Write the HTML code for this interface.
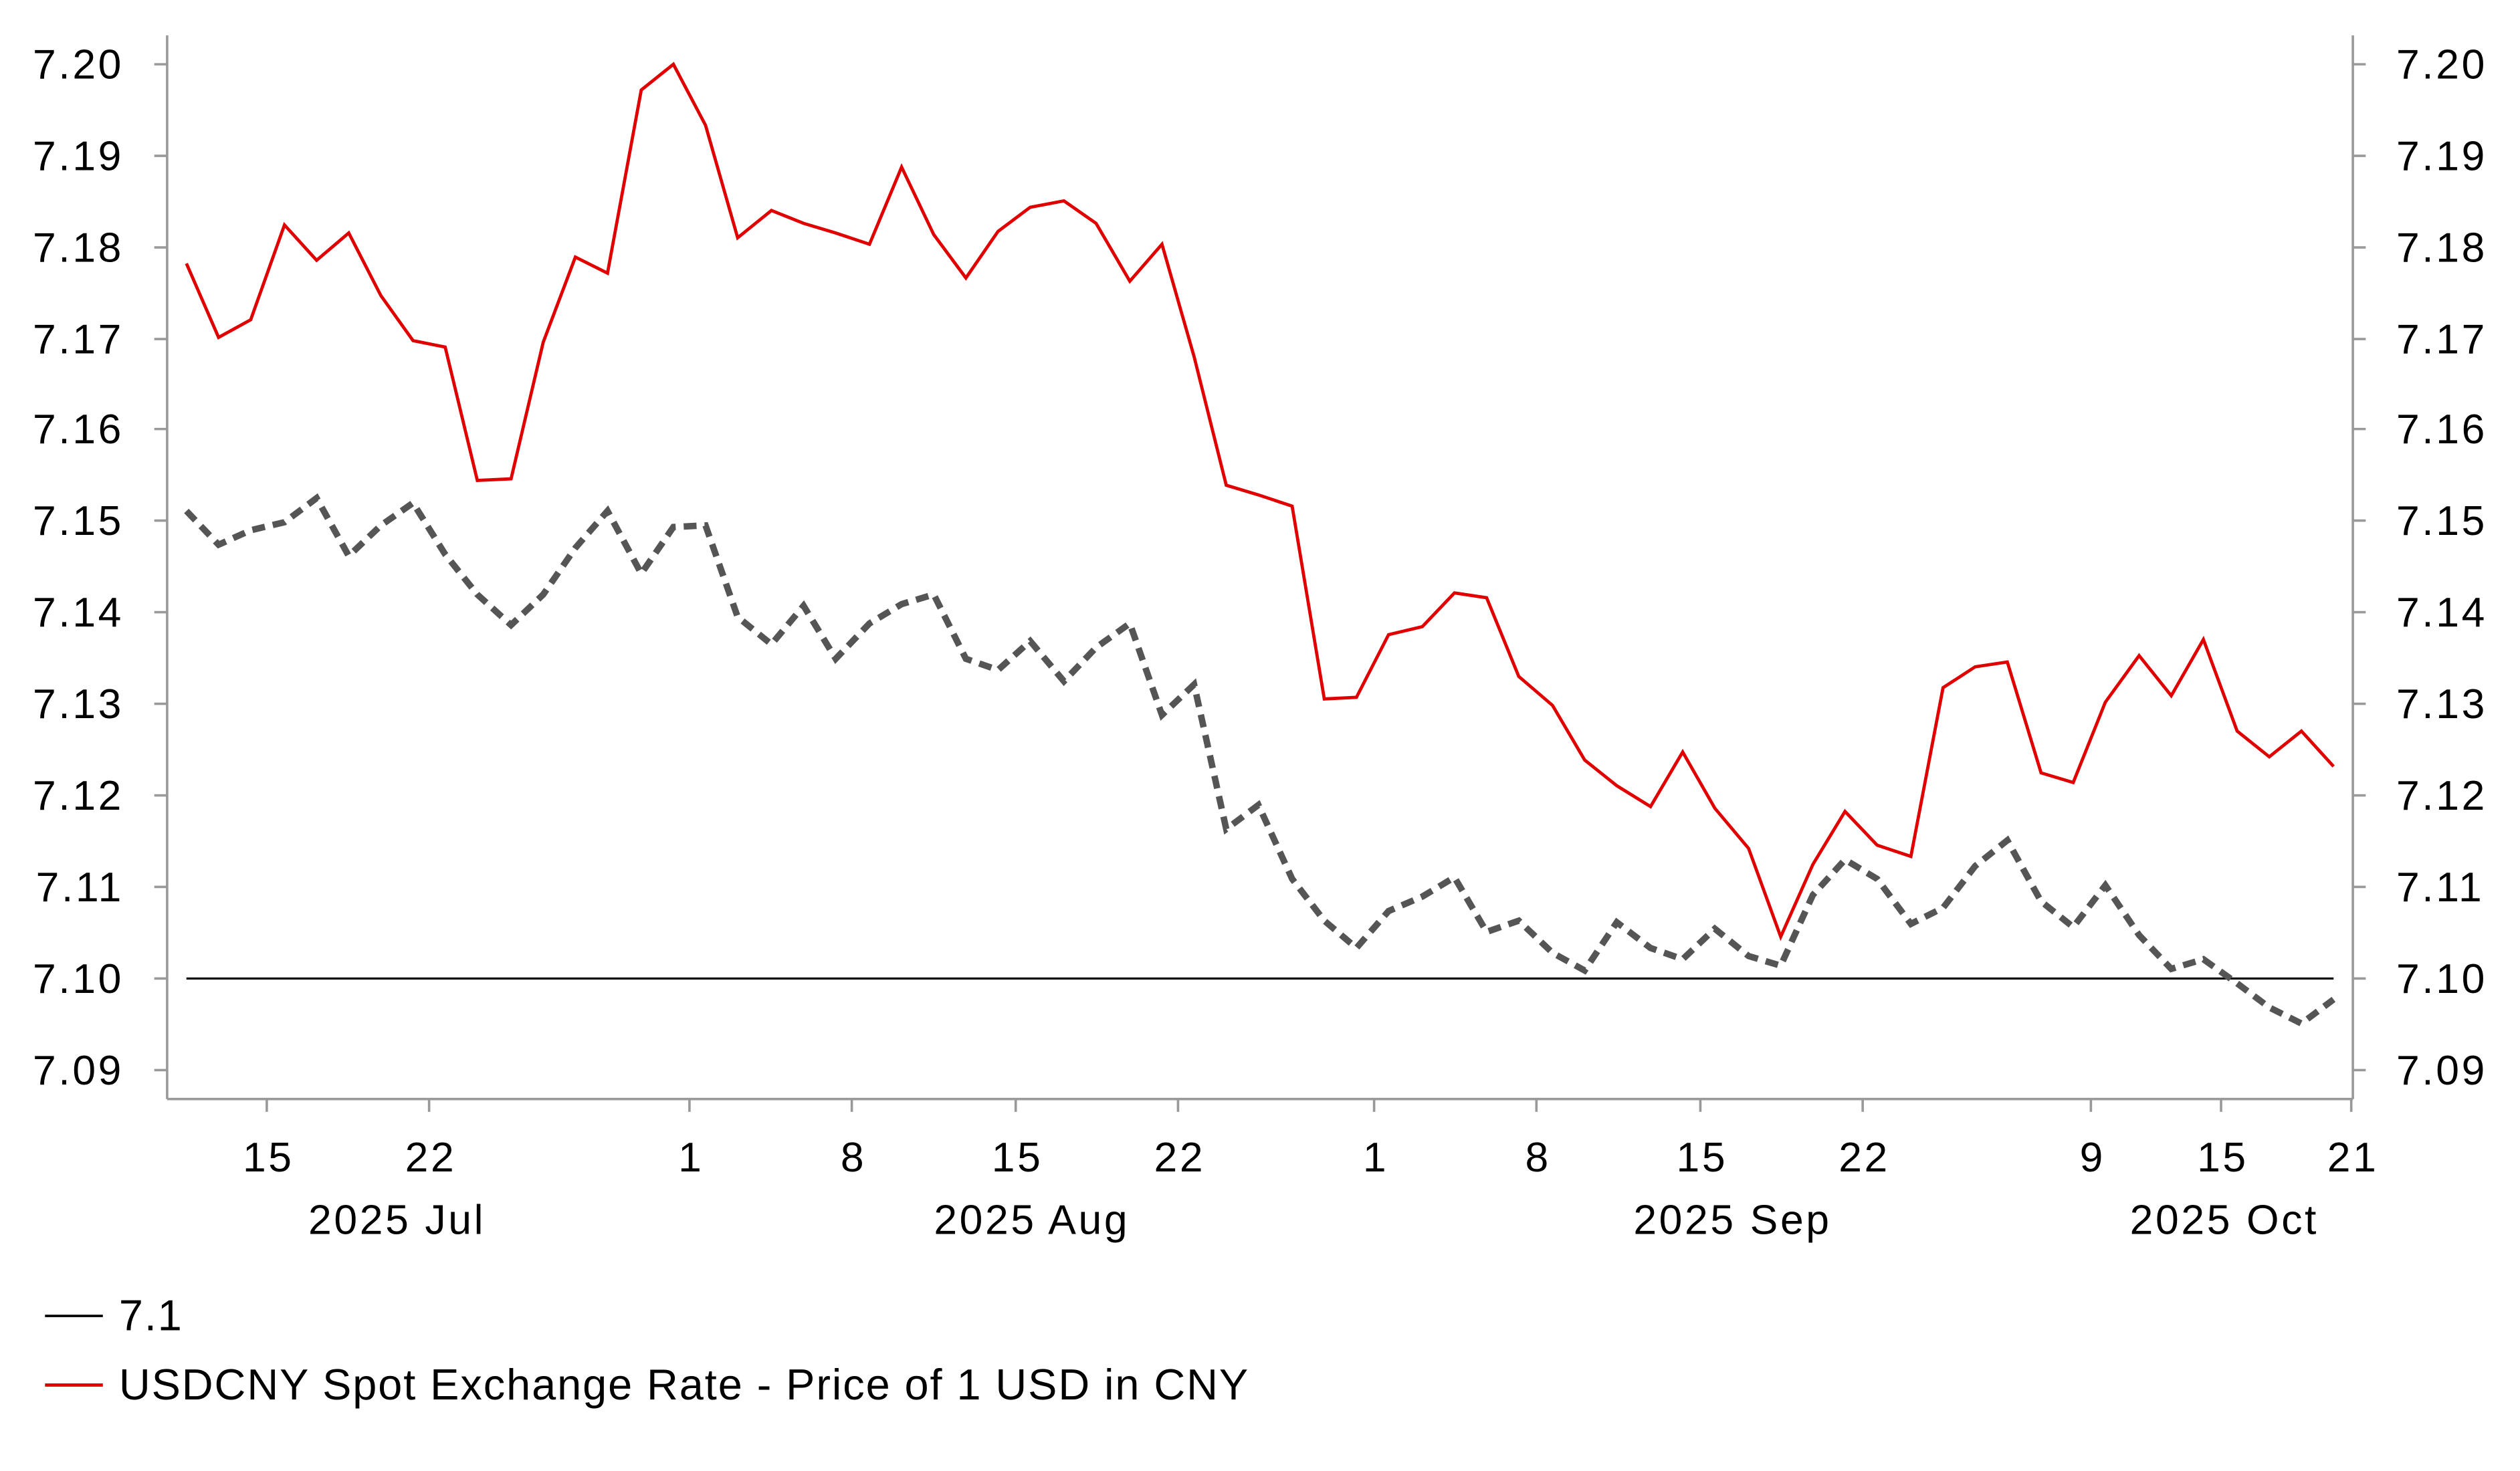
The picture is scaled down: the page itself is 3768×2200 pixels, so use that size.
<!DOCTYPE html>
<html><head><meta charset="utf-8"><style>html,body{margin:0;padding:0;background:#fff}svg{display:block}</style></head><body>
<svg xmlns="http://www.w3.org/2000/svg" width="3768" height="2200" viewBox="0 0 1568 915.5" font-family="Liberation Sans, Arial, sans-serif" fill="#000">
<rect width="1568" height="915.5" fill="#fff"/>
<g stroke="#999" stroke-width="1.5" fill="none">
<line x1="104" y1="22" x2="104" y2="684"/>
<line x1="1464" y1="22" x2="1464" y2="684"/>
<line x1="104" y1="684" x2="1464" y2="684"/>
<path d="M96 40H104M96 97H104M96 154H104M96 211H104M96 267H104M96 324H104M96 381H104M96 438H104M96 495H104M96 552H104M96 609H104M96 666H104"/>
<path d="M1464 40H1472M1464 97H1472M1464 154H1472M1464 211H1472M1464 267H1472M1464 324H1472M1464 381H1472M1464 438H1472M1464 495H1472M1464 552H1472M1464 609H1472M1464 666H1472"/>
<path d="M166 684V692M267 684V692M429 684V692M530 684V692M632 684V692M733 684V692M855 684V692M956 684V692M1058 684V692M1159 684V692M1301 684V692M1382 684V692M1463 684V692"/>
</g>
<g font-size="26" letter-spacing="1.5" text-anchor="end">
<text x="77" y="49">7.20</text><text x="77" y="106">7.19</text><text x="77" y="163">7.18</text><text x="77" y="220">7.17</text><text x="77" y="276">7.16</text><text x="77" y="333">7.15</text><text x="77" y="390">7.14</text><text x="77" y="447">7.13</text><text x="77" y="504">7.12</text><text x="77" y="561">7.11</text><text x="77" y="618">7.10</text><text x="77" y="675">7.09</text>
</g>
<g font-size="26" letter-spacing="1.5" text-anchor="start">
<text x="1491" y="49">7.20</text><text x="1491" y="106">7.19</text><text x="1491" y="163">7.18</text><text x="1491" y="220">7.17</text><text x="1491" y="276">7.16</text><text x="1491" y="333">7.15</text><text x="1491" y="390">7.14</text><text x="1491" y="447">7.13</text><text x="1491" y="504">7.12</text><text x="1491" y="561">7.11</text><text x="1491" y="618">7.10</text><text x="1491" y="675">7.09</text>
</g>
<g font-size="26" letter-spacing="1.5" text-anchor="middle">
<text x="167" y="729">15</text><text x="268" y="729">22</text><text x="430" y="729">1</text><text x="531" y="729">8</text><text x="633" y="729">15</text><text x="734" y="729">22</text><text x="856" y="729">1</text><text x="957" y="729">8</text><text x="1059" y="729">15</text><text x="1160" y="729">22</text><text x="1302" y="729">9</text><text x="1383" y="729">15</text><text x="1464" y="729">21</text>
<text x="247" y="768">2025 Jul</text><text x="642" y="768">2025 Aug</text><text x="1078" y="768">2025 Sep</text><text x="1384" y="768">2025 Oct</text>
</g>
<line x1="116" y1="609" x2="1452" y2="609" stroke="#000" stroke-width="1.3"/>
<polyline fill="none" stroke="#555" stroke-width="4" stroke-dasharray="8 5" points="116,318 136,339 156,330 177,325 197,310 217,346 237,327 257,313 277,345 297,370 318,389 338,370 358,341 378,318 399,357 419,328 439,327 459,384 480,401 500,377 520,410 541,388 561,376 581,370 601,410 621,417 641,399 662,424 682,403 703,388 723,445 743,426 763,516 783,501 804,547 824,573 844,590 864,567 885,558 905,546 925,580 945,573 966,593 986,604 1006,574 1027,590 1047,597 1067,578 1088,595 1108,601 1128,557 1148,535 1168,547 1189,575 1209,565 1229,539 1249,523 1270,561 1290,577 1310,551 1331,582 1351,603 1371,597 1392,612 1412,627 1432,637 1452,622"/>
<polyline fill="none" stroke="#e00000" stroke-width="2" points="116,164 136,210 156,199 177,140 197,162 217,145 237,184 257,212 277,216 297,299 318,298 338,213 358,160 378,170 399,56 419,40 439,78 459,148 480,131 500,139 520,145 541,152 561,104 581,146 601,173 621,144 641,129 662,125 682,139 703,175 723,152 743,222 763,302 783,308 804,315 824,435 844,434 864,395 885,390 905,369 925,372 945,421 966,439 986,473 1006,489 1027,502 1047,468 1067,503 1088,528 1108,583 1128,538 1148,505 1168,526 1189,533 1209,428 1229,415 1249,412 1270,481 1290,487 1310,437 1331,408 1351,433 1371,398 1392,455 1412,471 1432,455 1452,477"/>
<line x1="28" y1="819" x2="64" y2="819" stroke="#000" stroke-width="1.5"/>
<text x="74" y="828" font-size="27" letter-spacing="0.8">7.1</text>
<line x1="28" y1="862" x2="64" y2="862" stroke="#e00000" stroke-width="2"/>
<text x="74" y="871" font-size="27" letter-spacing="0.8">USDCNY Spot Exchange Rate - Price of 1 USD in CNY</text>
</svg>
</body></html>
